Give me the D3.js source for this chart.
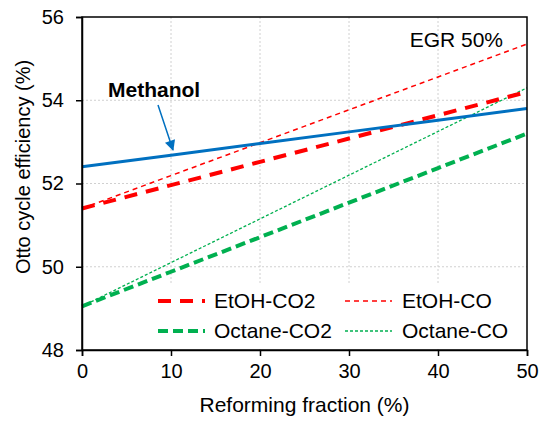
<!DOCTYPE html>
<html>
<head>
<meta charset="utf-8">
<script src="https://cdn.jsdelivr.net/npm/d3@7"></script>
<style>
  html, body { margin: 0; padding: 0; background: #fff; }
  svg { display: block; font-family: "Liberation Sans", Arial, sans-serif; }
</style>
</head>
<body>
<svg id="chart" width="543" height="422"></svg>
<script>
// Reforming fraction (%)
const fractions = [0, 10, 20, 30, 40, 50];

// Otto cycle efficiency (%) for each fuel / reforming product
const methanol  = [52.40, 52.68, 52.96, 53.24, 53.52, 53.80];
const etohCO2   = [51.40, 51.96, 52.52, 53.08, 53.64, 54.20];
const etohCO    = [51.40, 52.19, 52.98, 53.77, 54.56, 55.35];
const octaneCO2 = [49.05, 49.88, 50.71, 51.54, 52.37, 53.20];
const octaneCO  = [49.05, 50.10, 51.15, 52.20, 53.25, 54.30];

const xTicks = [0, 10, 20, 30, 40, 50];
const yTicks = [48, 50, 52, 54, 56];

const seriesNames = ["Methanol", "EtOH-CO2", "EtOH-CO", "Octane-CO2", "Octane-CO"];

const svg = d3.select("#chart");
const m = { left: 82, right: 527, top: 17, bottom: 350 };

const x = d3.scaleLinear().domain([0, 50]).range([m.left, m.right]);
const y = d3.scaleLinear().domain([48, 56]).range([m.bottom, m.top]);

// dotted grid
const grid = svg.append("g");
grid.selectAll(".gx").data(xTicks.slice(1, -1)).join("line")
  .attr("x1", d => x(d)).attr("x2", d => x(d))
  .attr("y1", m.top).attr("y2", m.bottom)
  .attr("stroke", "#d0d0d0").attr("stroke-width", 1).attr("stroke-dasharray", "2,2");
grid.selectAll(".gy").data(yTicks.slice(1, -1)).join("line")
  .attr("x1", m.left).attr("x2", m.right)
  .attr("y1", d => y(d)).attr("y2", d => y(d))
  .attr("stroke", "#d0d0d0").attr("stroke-width", 1).attr("stroke-dasharray", "2,2");

// legend backdrop hides the grid behind it
svg.append("rect").attr("x", 150).attr("y", 284).attr("width", 372).attr("height", 64).attr("fill", "#fff");

const styles = {
  "Methanol":   { data: methanol,  color: "#0070C0", width: 3,   dash: null },
  "EtOH-CO2":   { data: etohCO2,   color: "#FF0000", width: 4,   dash: "13,9" },
  "EtOH-CO":    { data: etohCO,    color: "#FF0000", width: 1.5, dash: "5,4" },
  "Octane-CO2": { data: octaneCO2, color: "#00B050", width: 4,   dash: "10,5" },
  "Octane-CO":  { data: octaneCO,  color: "#00B050", width: 1.3, dash: "3,2" }
};

const line = d3.line().x((d, i) => x(fractions[i])).y(d => y(d));

const plot = svg.append("g");
plot.selectAll("path").data(seriesNames.slice().reverse()).join("path")
  .attr("d", n => line(styles[n].data))
  .attr("fill", "none")
  .attr("stroke", n => styles[n].color)
  .attr("stroke-width", n => styles[n].width)
  .attr("stroke-dasharray", n => styles[n].dash);

// frame
svg.append("rect").attr("x", m.left).attr("y", m.top)
  .attr("width", m.right - m.left).attr("height", m.bottom - m.top)
  .attr("fill", "none").attr("stroke", "#000").attr("stroke-width", 1.5);

// axes
const xAxis = svg.append("g").attr("transform", `translate(0,${m.bottom})`)
  .call(d3.axisBottom(x).tickValues(xTicks).tickSize(6).tickPadding(8));
const yAxis = svg.append("g").attr("transform", `translate(${m.left},0)`)
  .call(d3.axisLeft(y).tickValues(yTicks).tickSize(6).tickPadding(12));
[xAxis, yAxis].forEach(a => {
  a.select(".domain").attr("stroke", "#000").attr("stroke-width", 1.5);
  a.selectAll(".tick line").attr("stroke", "#000").attr("stroke-width", 1.5);
  a.selectAll(".tick text").attr("fill", "#000").attr("font-size", 20)
    .attr("font-family", "'Liberation Sans', Arial, sans-serif");
});

// axis titles
svg.append("text").attr("x", (m.left + m.right) / 2).attr("y", 412)
  .attr("text-anchor", "middle").attr("font-size", 21).text("Reforming fraction (%)");
svg.append("text").attr("transform", "translate(30,167) rotate(-90)")
  .attr("text-anchor", "middle").attr("font-size", 20).text("Otto cycle efficiency (%)");

// annotations
svg.append("text").attr("x", 503).attr("y", 47).attr("text-anchor", "end")
  .attr("font-size", 21).text("EGR 50%");
svg.append("text").attr("x", 108).attr("y", 97).attr("font-size", 21)
  .attr("font-weight", "bold").text("Methanol");

svg.append("defs").append("marker").attr("id", "arrow")
  .attr("viewBox", "0 0 10 10").attr("refX", 9).attr("refY", 5)
  .attr("markerWidth", 8).attr("markerHeight", 7).attr("orient", "auto")
  .attr("markerUnits", "strokeWidth")
  .append("path").attr("d", "M0,0 L10,5 L0,10 z").attr("fill", "#0070C0");
svg.append("line").attr("x1", 158).attr("y1", 105).attr("x2", 173).attr("y2", 150)
  .attr("stroke", "#0070C0").attr("stroke-width", 1.5).attr("marker-end", "url(#arrow)");

// legend
const legendItems = [
  { name: "EtOH-CO2",   lx: 158, tx: 214, ty: 301 },
  { name: "EtOH-CO",    lx: 345, tx: 402, ty: 301 },
  { name: "Octane-CO2", lx: 158, tx: 214, ty: 331 },
  { name: "Octane-CO",  lx: 345, tx: 402, ty: 331 }
];
const lg = svg.append("g");
legendItems.forEach(it => {
  const s = styles[it.name];
  lg.append("line").attr("x1", it.lx).attr("x2", it.lx + 47)
    .attr("y1", it.ty).attr("y2", it.ty)
    .attr("stroke", s.color).attr("stroke-width", s.width).attr("stroke-dasharray", s.dash);
  lg.append("text").attr("x", it.tx).attr("y", it.ty).attr("dy", "0.35em")
    .attr("font-size", 21).text(it.name);
});
</script>
</body>
</html>
